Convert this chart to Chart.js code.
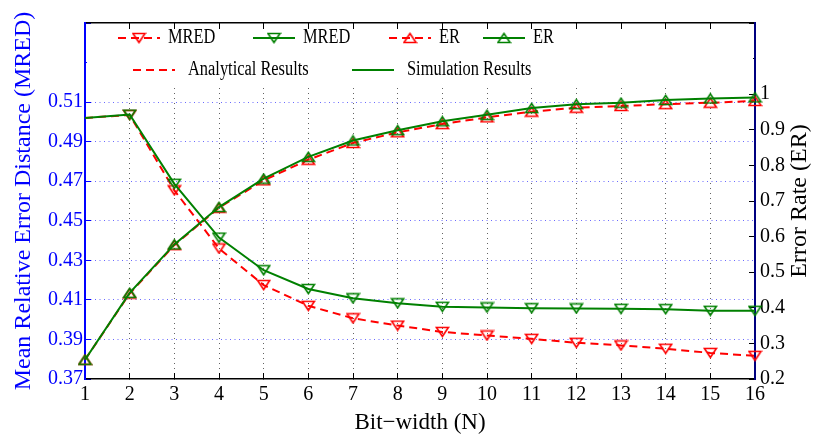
<!DOCTYPE html>
<html>
<head>
<meta charset="utf-8">
<title>MRED / ER vs bit-width</title>
<script src="https://cdn.jsdelivr.net/npm/chart.js@4.4.1/dist/chart.umd.min.js"></script>
<style>
    html, body { margin: 0; padding: 0; background: #fff; }
    #wrap { width: 815px; height: 437px; }
</style>
</head>
<body>
<div id="wrap"><canvas id="errorChart"></canvas></div>
<script>
// bit-width N on the x axis
const bitWidths = ['1', '2', '3', '4', '5', '6', '7', '8', '9', '10', '11', '12', '13', '14', '15', '16'];

// mean relative error distance (left axis)
const mredAnalytical = [0.5020, 0.5035, 0.4654, 0.4360, 0.4175, 0.4070, 0.4007, 0.3970, 0.3938, 0.3920, 0.3903, 0.3883, 0.3870, 0.3853, 0.3832, 0.3817];
const mredSimulation = [0.5020, 0.5037, 0.4687, 0.4415, 0.4250, 0.4155, 0.4108, 0.4083, 0.4065, 0.4062, 0.4058, 0.4057, 0.4055, 0.4053, 0.4045, 0.4045];

// error rate (right axis)
const erAnalytical = [0.254, 0.440, 0.576, 0.681, 0.758, 0.816, 0.863, 0.893, 0.916, 0.935, 0.951, 0.962, 0.967, 0.972, 0.976, 0.981];
const erSimulation = [0.254, 0.442, 0.578, 0.683, 0.763, 0.824, 0.870, 0.899, 0.924, 0.942, 0.961, 0.972, 0.976, 0.984, 0.988, 0.991];

const resultKinds = ['Analytical Results', 'Simulation Results'];

const RED = '#ff0000';
const GREEN = '#008000';
const FONT = '"Liberation Serif", "Times New Roman", serif';

Chart.defaults.font.family = FONT;

// hollow triangle markers (matlab style, wider than tall)
function triangleMarker(color, down) {
    const c = document.createElement('canvas');
    c.width = 15;
    c.height = 12;
    const g = c.getContext('2d');
    g.strokeStyle = color;
    g.lineWidth = 1.6;
    g.beginPath();
    if (down) {
        g.moveTo(1.5, 1.5); g.lineTo(13.5, 1.5); g.lineTo(7.5, 10.5);
    } else {
        g.moveTo(7.5, 1.5); g.lineTo(13.5, 10.5); g.lineTo(1.5, 10.5);
    }
    g.closePath();
    g.stroke();
    return c;
}

const redDown = triangleMarker(RED, true);
const redUp = triangleMarker(RED, false);
const greenDown = triangleMarker(GREEN, true);
const greenUp = triangleMarker(GREEN, false);

// first MRED point is drawn without a marker
const skipFirst = ctx => ctx.dataIndex === 0 ? 0 : 6;

// legend inside the plot box + right axis title
const boxLegend = {
    id: 'boxLegend',
    beforeDatasetsDraw(chart) {
        const { ctx, chartArea: a } = chart;
        const ds = chart.data.datasets;
        ctx.save();
        ctx.fillStyle = '#fff';
        ctx.fillRect(a.left + 2, a.top + 7, a.right - a.left - 4, 88 - a.top - 7);

        function sample(x, y, set) {
            ctx.save();
            ctx.strokeStyle = set.borderColor;
            ctx.lineWidth = set.borderWidth;
            ctx.setLineDash(set.borderDash || []);
            ctx.beginPath();
            ctx.moveTo(x, y);
            ctx.lineTo(x + 42, y);
            ctx.stroke();
            ctx.restore();
        }

        // legend text is narrow and tall
        function label(text, x, y) {
            ctx.save();
            ctx.translate(x, y);
            ctx.scale(0.82, 1);
            ctx.font = '20px ' + FONT;
            ctx.fillStyle = '#000';
            ctx.textBaseline = 'middle';
            ctx.textAlign = 'left';
            ctx.fillText(text, 0, 0);
            ctx.restore();
        }

        // row 1: red MRED, green MRED, red ER, green ER
        const rowOne = [[118, 2], [253, 0], [389, 3], [483, 1]];
        rowOne.forEach(([x, i]) => {
            const set = ds[i];
            sample(x, 38, set);
            const m = set.pointStyle;
            ctx.drawImage(m, x + 21 - m.width / 2, 38 - m.height / 2);
            label(set.label, x + 50, 38);
        });

        // row 2: line style only
        const rowTwo = [[133, 2], [352, 0]];
        rowTwo.forEach(([x, i], k) => {
            sample(x, 70, ds[i]);
            label(resultKinds[k], x + 55, 70);
        });
        ctx.restore();
    },
    afterDraw(chart) {
        const { ctx, chartArea: a } = chart;
        ctx.save();
        ctx.translate(800, (a.top + a.bottom) / 2);
        ctx.rotate(-Math.PI / 2);
        ctx.font = '24px ' + FONT;
        ctx.fillStyle = '#000';
        ctx.textAlign = 'center';
        ctx.textBaseline = 'middle';
        ctx.fillText('Error Rate (ER)', 0, 0);
        ctx.restore();
    }
};

var errorChart = new Chart(
    document.getElementById('errorChart'),
    {
        type: 'line',
        data: {
            labels: bitWidths,
            datasets: [
                {
                    label: 'MRED',
                    data: mredSimulation,
                    yAxisID: 'y',
                    borderColor: GREEN,
                    borderWidth: 2,
                    pointStyle: greenDown,
                    pointRadius: skipFirst
                },
                {
                    label: 'ER',
                    data: erSimulation,
                    yAxisID: 'y2',
                    borderColor: GREEN,
                    borderWidth: 2,
                    pointStyle: greenUp,
                    pointRadius: 6
                },
                {
                    label: 'MRED',
                    data: mredAnalytical,
                    yAxisID: 'y',
                    borderColor: RED,
                    borderWidth: 2,
                    borderDash: [8, 5],
                    pointStyle: redDown,
                    pointRadius: skipFirst
                },
                {
                    label: 'ER',
                    data: erAnalytical,
                    yAxisID: 'y2',
                    borderColor: RED,
                    borderWidth: 2,
                    borderDash: [8, 5],
                    pointStyle: redUp,
                    pointRadius: 6
                }
            ]
        },
        options: {
            responsive: true,
            maintainAspectRatio: false,
            animation: false,
            events: [],
            clip: 8,
            layout: { padding: { top: 20, left: 0, right: 0, bottom: 0 } },
            elements: { line: { tension: 0, fill: false } },
            plugins: {
                legend: { display: false },
                tooltip: { enabled: false }
            },
            scales: {
                x: {
                    position: 'bottom',
                    grid: { color: 'rgba(60,60,60,0.8)', lineWidth: 1, tickLength: -6, tickColor: '#000', tickWidth: 1 },
                    border: { color: '#000', width: 1.5, dash: [1, 4] },
                    ticks: { color: '#000', padding: 10, autoSkip: false, maxRotation: 0, font: { size: 20 } },
                    title: { display: true, text: 'Bit−width (N)', color: '#000', font: { size: 23 }, padding: 0 },
                    afterFit: s => { s.height = 58; }
                },
                xTop: {
                    type: 'category',
                    labels: bitWidths,
                    position: 'top',
                    ticks: { display: false },
                    grid: { drawOnChartArea: false, tickLength: -6, tickColor: '#000' },
                    border: { color: '#000', width: 1.5 },
                    afterFit: s => { s.height = 0; }
                },
                y: {
                    position: 'left',
                    min: 0.37,
                    max: 0.55,
                    ticks: {
                        stepSize: 0.02,
                        color: '#0000ff',
                        padding: 8,
                        font: { size: 20 },
                        callback: v => v > 0.515 ? '' : v.toFixed(2)
                    },
                    grid: {
                        color: c => (c.tick && c.tick.value > 0.375 && c.tick.value < 0.515) ? '#6a6aff' : 'rgba(0,0,0,0)',
                        tickLength: -6,
                        tickColor: '#0000ff'
                    },
                    border: { color: '#0000ff', width: 2, dash: [1, 3.5] },
                    title: {
                        display: true,
                        text: 'Mean Relative Error Distance (MRED)',
                        color: '#0000ff',
                        font: { size: 24 },
                        padding: { top: 9, bottom: 0 }
                    },
                    afterFit: s => { s.width = 85; }
                },
                y2: {
                    position: 'right',
                    min: 0.2,
                    max: 1.2,
                    ticks: {
                        stepSize: 0.1,
                        color: '#000',
                        padding: 11,
                        font: { size: 20 },
                        callback: v => v > 1.05 ? '' : (Math.abs(v - 1) < 1e-9 ? '1' : v.toFixed(1))
                    },
                    grid: { drawOnChartArea: false, tickLength: -6, tickColor: '#000' },
                    border: { color: '#000080', width: 2 },
                    afterFit: s => { s.width = 60; }
                }
            }
        },
        plugins: [boxLegend]
    }
);
</script>
</body>
</html>
